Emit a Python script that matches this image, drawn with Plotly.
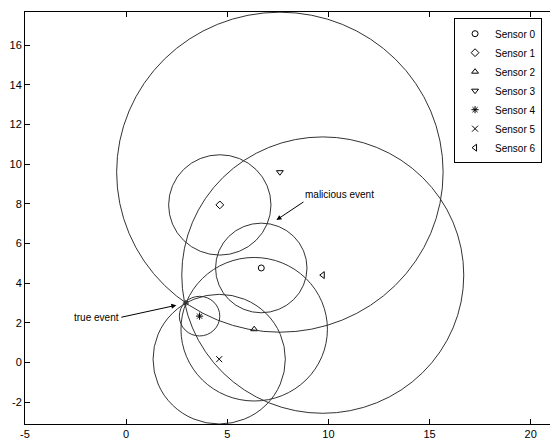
import plotly.graph_objects as go

# ==== data ==========================
sensor_names = ['Sensor 0', 'Sensor 1', 'Sensor 2', 'Sensor 3', 'Sensor 4', 'Sensor 5', 'Sensor 6']
sensor_x = [6.68, 4.63, 6.33, 7.60, 3.63, 4.60, 9.72]
sensor_y = [4.77, 7.95, 1.68, 9.60, 2.34, 0.17, 4.41]
radius = [2.26, 2.53, 3.62, 8.07, 1.00, 3.27, 6.97]
symbols = ['circle-open', 'diamond-open', 'triangle-up-open', 'triangle-down-open',
           'asterisk-open', 'x-thin-open', 'triangle-left-open']

true_event = (2.95, 3.0)
true_tip = (2.48, 2.89)
malicious_tip = (7.43, 7.19)

xtick_vals = [-5, 0, 5, 10, 15, 20]
xtick_text = ['-5', '0', '5', '10', '15', '20']
ytick_vals = [-2, 0, 2, 4, 6, 8, 10, 12, 14, 16]
ytick_text = ['-2', '0', '2', '4', '6', '8', '10', '12', '14', '16']

x_range = [-5, 21.25]
y_range = [-3.1, 17.68]

# ==== settings =====
font_name = 'Liberation Sans, Arial, sans-serif'
tick_font = 11
txt_font = 10
# page body keeps its 8px margin, so the figure is 8px smaller than the window
fig_w, fig_h = 550, 432

fig = go.Figure()

for name, x, y, sym in zip(sensor_names, sensor_x, sensor_y, symbols):
    fig.add_trace(go.Scatter(x=[x], y=[y], mode='markers', name=name,
                             marker=dict(symbol=sym, size=6, color='black',
                                         line=dict(color='black', width=1))))

# event where the true-event circles meet
fig.add_trace(go.Scatter(x=[true_event[0]], y=[true_event[1]], mode='markers', showlegend=False,
                         marker=dict(symbol='asterisk-open', size=5, color='black',
                                     line=dict(color='black', width=1))))

# range circle around every sensor
for x, y, r in zip(sensor_x, sensor_y, radius):
    fig.add_shape(type='circle', xref='x', yref='y',
                  x0=x - r, x1=x + r, y0=y - r, y1=y + r,
                  line=dict(color='#333333', width=1))

fig.add_annotation(x=true_tip[0], y=true_tip[1], text='true event',
                   ax=-55, ay=12, xanchor='right', yanchor='middle',
                   showarrow=True, arrowhead=2, arrowsize=1, arrowwidth=1, standoff=0,
                   arrowcolor='black', font=dict(size=txt_font, color='black'))
fig.add_annotation(x=malicious_tip[0], y=malicious_tip[1], text='malicious event',
                   ax=27, ay=-18, xanchor='left', yanchor='bottom',
                   showarrow=True, arrowhead=2, arrowsize=1, arrowwidth=1, standoff=0,
                   arrowcolor='black', font=dict(size=txt_font, color='black'))

axis_style = dict(showgrid=False, zeroline=False, showline=True, linecolor='black', linewidth=1,
                  mirror='ticks', ticks='inside', ticklen=5, tickcolor='black',
                  tickfont=dict(size=tick_font, color='black'), automargin=False)

fig.update_xaxes(range=x_range, tickvals=xtick_vals, ticktext=xtick_text, **axis_style)
fig.update_yaxes(range=y_range, tickvals=ytick_vals, ticktext=ytick_text, **axis_style)

fig.update_layout(
    width=fig_w, height=fig_h,
    margin=dict(l=17, r=2, t=4, b=16),
    plot_bgcolor='white', paper_bgcolor='white',
    font=dict(family=font_name, size=txt_font, color='black'),
    legend=dict(x=0.808, y=0.985, xanchor='left', yanchor='top',
                bgcolor='white', bordercolor='black', borderwidth=1,
                font=dict(size=txt_font)),
)

fig.write_html('out.html')
